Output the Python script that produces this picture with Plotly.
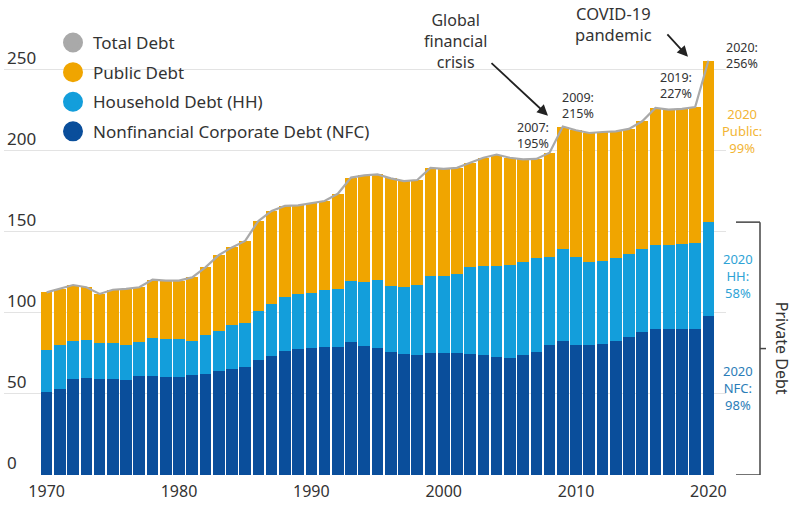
import plotly.graph_objects as go

years = list(range(1970, 2021))
nfc = [51.2, 52.9, 59.0, 59.8, 59.4, 59.4, 58.8, 61.1, 61.1, 60.2,
       60.2, 61.9, 62.6, 64.3, 65.6, 66.4, 70.7, 73.4, 76.8, 77.9,
       78.5, 78.7, 78.8, 82.2, 79.3, 78.3, 75.6, 74.6, 73.8, 75.4,
       75.3, 75.0, 74.8, 74.0, 72.5, 72.2, 74.2, 76.0, 79.9, 82.4,
       79.9, 79.9, 80.9, 82.6, 85.0, 88.1, 90.2, 89.8, 89.8, 89.8,
       98.0]
hh = [26.1, 27.0, 23.4, 23.4, 22.2, 22.2, 21.7, 20.9, 23.3, 23.4,
      23.4, 20.9, 23.9, 24.8, 27.2, 27.1, 30.3, 32.1, 32.8, 33.8,
      34.0, 35.3, 36.2, 37.5, 39.7, 42.2, 41.2, 41.3, 43.5, 47.5,
      47.7, 49.0, 53.3, 55.1, 56.6, 57.6, 57.0, 57.6, 54.3, 57.3,
      54.3, 51.3, 50.9, 51.0, 51.3, 51.6, 51.8, 52.2, 52.5, 53.2,
      58.0]
public = [35.4, 34.9, 34.8, 32.6, 30.1, 32.7, 34.3, 33.8, 36.1, 36.3,
          36.3, 39.1, 41.6, 46.5, 47.6, 50.9, 55.7, 57.4, 56.4, 54.6,
          55.0, 55.0, 58.5, 63.8, 65.8, 64.9, 66.2, 65.4, 64.7, 66.6,
          65.8, 65.5, 64.5, 66.6, 68.6, 65.9, 63.5, 61.4, 64.6, 75.3,
          78.5, 79.8, 79.8, 78.4, 77.2, 78.5, 84.4, 83.4, 83.6, 84.0,
          99.6]
total = [a + b + c for a, b, c in zip(nfc, hh, public)]

year_ticks = [1970, 1980, 1990, 2000, 2010, 2020]
y_ticks = [0, 50, 100, 150, 200, 250]

legend_names = ["Total Debt", "Public Debt", "Household Debt (HH)",
                "Nonfinancial Corporate Debt (NFC)"]

C_TOTAL = "#a9a9a9"
C_PUB = "#f0a500"
C_HH = "#139edb"
C_NFC = "#0a4e9b"
FONT = "Noto Sans"
TXT = "#333333"

W, H = 792, 506
ML, MR, MT, MB = 4, 66, 20, 29.3
plot_w = W - ML - MR
plot_h = H - MT - MB


def px_x(p):
    return (p - ML) / plot_w


def px_y(p):
    return (H - MB - p) / plot_h


fig = go.Figure()
for name, vals, col in [("Nonfinancial Corporate Debt (NFC)", nfc, C_NFC),
                        ("Household Debt (HH)", hh, C_HH),
                        ("Public Debt", public, C_PUB)]:
    fig.add_trace(go.Bar(x=years, y=vals, name=name, marker_color=col,
                         marker_line_width=0, showlegend=False))

fig.add_trace(go.Scatter(x=years, y=total, mode="lines", name="Total Debt",
                         line=dict(color=C_TOTAL, width=2.2), showlegend=False))

# legend entries (circle symbols)
for i, (nm, col) in enumerate(zip(legend_names, [C_TOTAL, C_PUB, C_HH, C_NFC])):
    fig.add_trace(go.Scatter(x=[None], y=[None], mode="markers", name=nm,
                             legendgroup=f"g{i}",
                             marker=dict(symbol="circle", size=16, color=col,
                                         line=dict(color=col, width=4))))

ann = []


def text(x, y, t, color=TXT, size=13, **kw):
    ann.append(dict(x=px_x(x), y=px_y(y), xref="paper", yref="paper", text=t,
                    showarrow=False, font=dict(family=FONT, size=size, color=color),
                    xanchor="center", yanchor="middle", **kw))


text(455, 41, "Global<br>financial<br>crisis", size=16)
text(613, 24, "COVID-19<br>pandemic", size=16.5)
text(533, 136, "2007:<br>195%", size=12.5)
text(578, 106, "2009:<br>215%", size=12.5)
text(676, 86, "2019:<br>227%", size=12.5)
text(742, 56, "2020:<br>256%", size=12.5)
text(742, 131, "2020<br>Public:<br>99%", color="#f2b535", size=13)
text(738, 277, "2020<br>HH:<br>58%", color="#2fa3d6", size=13)
text(738, 389, "2020<br>NFC:<br>98%", color="#2b7db8", size=13)
text(782, 349, "Private Debt", size=16, textangle=90)

# arrows
ann.append(dict(x=px_x(548), y=px_y(116), xref="paper", yref="paper", showarrow=True,
                ax=-58, ay=-54, arrowhead=2, arrowsize=1.2, arrowwidth=1.8,
                arrowcolor="#222222", text=""))
ann.append(dict(x=px_x(688), y=px_y(57), xref="paper", yref="paper", showarrow=True,
                ax=-22, ay=-24, arrowhead=2, arrowsize=1.2, arrowwidth=1.8,
                arrowcolor="#222222", text=""))

priv_top = nfc[-1] + hh[-1]
shapes = [
    dict(type="line", xref="paper", yref="y", x0=px_x(760), x1=px_x(760), y0=0, y1=priv_top,
         line=dict(color="#444444", width=1.5)),
    dict(type="line", xref="paper", yref="y", x0=px_x(736), x1=px_x(760), y0=priv_top, y1=priv_top,
         line=dict(color="#444444", width=1.5)),
    dict(type="line", xref="paper", yref="y", x0=px_x(736), x1=px_x(760), y0=0, y1=0,
         line=dict(color="#444444", width=1.5)),
    dict(type="line", xref="paper", yref="y", x0=px_x(760), x1=px_x(766), y0=priv_top / 2, y1=priv_top / 2,
         line=dict(color="#444444", width=1.5)),
]

fig.update_layout(
    width=W, height=H,
    margin=dict(l=ML, r=MR, t=MT, b=MB, pad=0),
    paper_bgcolor="white", plot_bgcolor="white",
    barmode="stack", bargap=0.12,
    font=dict(family=FONT, color=TXT),
    showlegend=True,
    legend=dict(x=px_x(53), y=px_y(25), xanchor="left", yanchor="top",
                bgcolor="rgba(0,0,0,0)", font=dict(size=17, color=TXT),
                traceorder="grouped", tracegroupgap=4.5, itemsizing="trace"),
    xaxis=dict(range=[1966.78, 2021.33], tickvals=year_ticks, showgrid=False,
               zeroline=False, showline=False, ticks="", ticklabelstandoff=5,
               tickfont=dict(size=16, color=TXT)),
    yaxis=dict(range=[0, 280.7], tickvals=y_ticks, showgrid=True, gridcolor="#e3e3e3",
               gridwidth=1, zeroline=False, showline=False, ticks="",
               ticklabelposition="inside top", tickfont=dict(size=17, color=TXT)),
    annotations=ann, shapes=shapes,
)

fig.write_html("out.html", config={"displayModeBar": False},
               post_script="document.body.style.margin='0';document.body.style.padding='0';")
